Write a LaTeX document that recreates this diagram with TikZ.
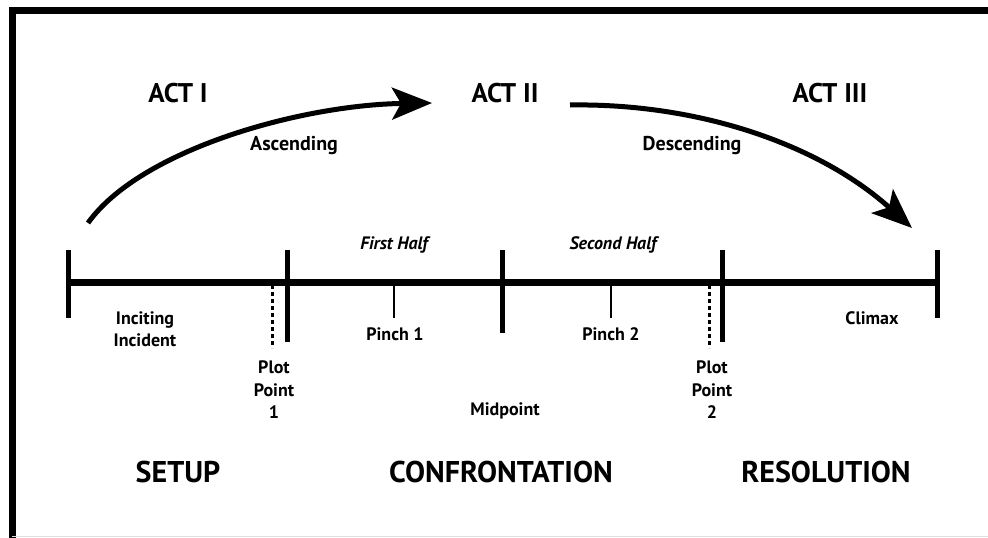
\documentclass[tikz,border=0pt]{standalone}
\usepackage{fontspec}
\setmainfont{PT Sans}
\usetikzlibrary{arrows.meta}
\tikzset{
  acttitle/.style={font=\bfseries\fontsize{27}{30}\selectfont, inner sep=0pt},
  arclabel/.style={font=\bfseries\fontsize{20}{23}\selectfont, inner sep=0pt},
  halflabel/.style={font=\bfseries\itshape\fontsize{18}{21}\selectfont, inner sep=0pt},
  smalllabel/.style={font=\bfseries\fontsize{18}{22.5}\selectfont, inner sep=0pt, align=center},
  partlabel/.style={font=\bfseries\fontsize{30}{33}\selectfont, inner sep=0pt},
  mainline/.style={line width=7pt},
  bigtick/.style={line width=5pt},
  thintick/.style={line width=1.6pt},
  dottick/.style={line width=3pt, dash pattern=on 4pt off 3pt},
  bigarrow/.style={line width=5pt, -{Stealth[length=40pt, width=32pt, inset=9pt]}},
}
\begin{document}
\begin{tikzpicture}[x=1pt, y=-1pt]
\useasboundingbox (0,0) rectangle (988,538);
% frame
\draw[line width=7pt] (988,10) -- (12,10) -- (12,538);
\draw[gray!25, line width=1pt] (12,536) -- (988,536);

% timeline
\coordinate (L) at (68,282);
\coordinate (R) at (937,282);
\draw[mainline] (L) -- (R);
\draw[bigtick] (68,250) -- (68,318);
\draw[bigtick] (937,250) -- (937,318);
\draw[bigtick] (287,250) -- (287,342);
\draw[bigtick] (502,250) -- (502,333);
\draw[bigtick] (722,250) -- (722,342);
\draw[thintick] (394,284) -- (394,318);
\draw[thintick] (611,284) -- (611,318);
\draw[dottick] (272,285) -- (272,348);
\draw[dottick] (709,285) -- (709,348);

% act titles
\node[acttitle] (act1) at (178,93) {ACT I};
\node[acttitle] (act2) at (505,93) {ACT II};
\node[acttitle] (act3) at (830,93) {ACT III};

% arcs
\coordinate (a1s) at (88,223);
\coordinate (a1e) at (432,103);
\draw[bigarrow] (a1s) .. controls (140,150) and (300,105) .. (a1e);
\coordinate (a2s) at (570,105);
\coordinate (a2e) at (912,228);
\draw[bigarrow] (a2s) .. controls (700,103) and (820,145) .. (a2e);
\node[arclabel] (asc) at (294,146) {Ascending};
\node[arclabel] (desc) at (692,146) {Descending};

% halves
\node[halflabel] (fh) at (394,245) {First Half};
\node[halflabel] (sh) at (613,245) {Second Half};

% labels below
\node[smalllabel] (inc) at (145,329) {Inciting\\Incident};
\node[smalllabel] (pp1) at (274,390) {Plot\\Point\\1};
\node[smalllabel] (p1) at (395,334) {Pinch 1};
\node[smalllabel] (mid) at (505,411) {Midpoint};
\node[smalllabel] (p2) at (611,334) {Pinch 2};
\node[smalllabel] (pp2) at (712,390) {Plot\\Point\\2};
\node[smalllabel] (clx) at (872,318) {Climax};

% parts
\node[partlabel] (setup) at (178,472) {SETUP};
\node[partlabel] (conf) at (501,472) {CONFRONTATION};
\node[partlabel] (res) at (826,472) {RESOLUTION};
\end{tikzpicture}
\end{document}
